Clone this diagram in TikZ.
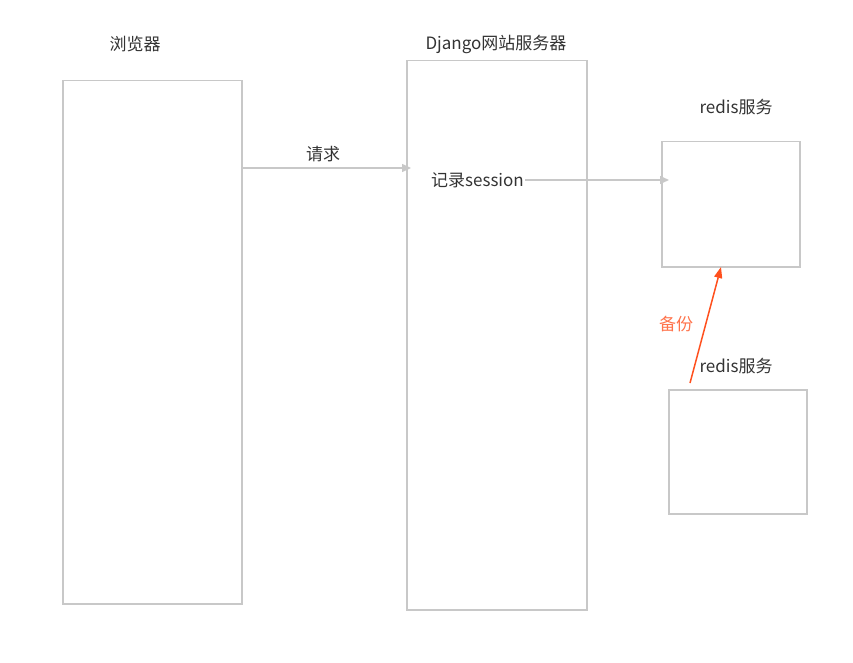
\documentclass[tikz,border=0pt]{standalone}
\usepackage{fontspec}
\setmainfont{Noto Sans CJK SC}
\usetikzlibrary{arrows.meta, positioning}
\definecolor{boxgray}{RGB}{200,200,200}
\definecolor{txtgray}{RGB}{51,51,51}
\definecolor{backup}{RGB}{255,80,30}
\tikzset{box/.style={draw=boxgray, line width=1.5pt, inner sep=0pt, anchor=north west},
	lbl/.style={text=txtgray, font=\fontsize{17}{20}\selectfont, inner sep=1pt},
	flow/.style={draw=boxgray, line width=1.5pt, -{Triangle[length=9pt,width=8pt]}}}

\begin{document}
\begin{tikzpicture}[x=1pt, y=-1pt]
		\useasboundingbox (0,0) rectangle (853,663);
		% boxes
		\node[box, minimum width=179pt, minimum height=523pt] (browser) at (62,80) {};
		\node[box, minimum width=180pt, minimum height=549pt] (django) at (406,60) {};
		\node[box, minimum width=138pt, minimum height=125pt] (redisA) at (661,141) {};
		\node[box, minimum width=138pt, minimum height=124pt] (redisB) at (668,389) {};
		% titles
		\node[lbl] (tBrowser) at (135,44) {浏览器};
		\node[lbl] (tDjango) at (496,44) {Django网站服务器};
		\node[lbl] (tRedisA) at (736,107) {redis服务};
		\node[lbl] (tRedisB) at (736,366) {redis服务};
		% flows
		\node[lbl] (req) at (323,154) {请求};
		\node[lbl, anchor=west] (session) at (430,180) {记录session};
		\coordinate (reqStart) at (241,168);
		\coordinate (reqEnd) at (411,168);
		\coordinate (sessEnd) at (669,180);
		\draw[flow] (reqStart) -- (reqEnd);
		\draw[flow] (session.east) -- (sessEnd);
		\coordinate (bakStart) at (690,383);
		\coordinate (bakEnd) at (721,267);
		\draw[draw=backup, line width=1.5pt, -{Triangle[length=11pt,width=8pt]}] (bakStart) -- (bakEnd);
		\node[lbl, text=backup!80] (bak) at (676,324) {备份};
	\end{tikzpicture}
\end{document}
